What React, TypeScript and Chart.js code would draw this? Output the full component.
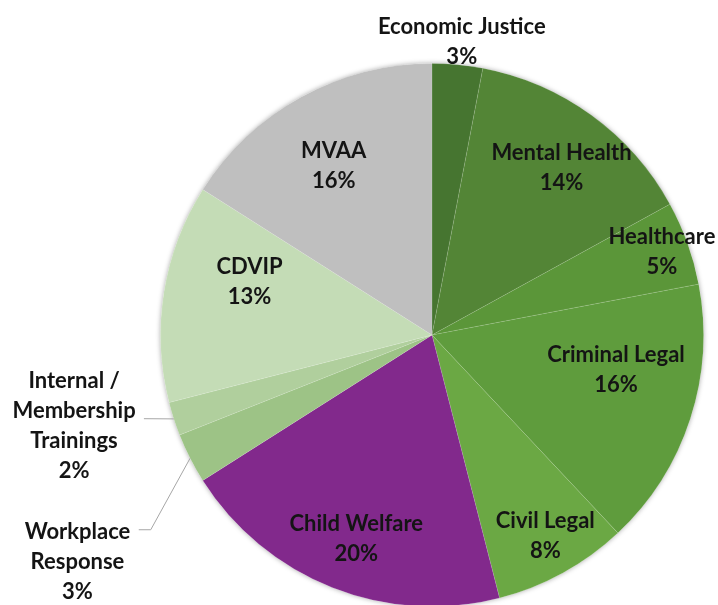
import { useEffect, useRef } from "react";
import { Chart, registerables } from "chart.js";

Chart.register(...registerables);

const categories = [
  "Economic Justice",
  "Mental Health",
  "Healthcare",
  "Criminal Legal",
  "Civil Legal",
  "Child Welfare",
  "Workplace Response",
  "Internal / Membership Trainings",
  "CDVIP",
  "MVAA",
];
const values = [3, 14, 5, 16, 8, 20, 3, 2, 13, 16];
const labelLines = [
  ["Economic Justice"],
  ["Mental Health"],
  ["Healthcare"],
  ["Criminal Legal"],
  ["Civil Legal"],
  ["Child Welfare"],
  ["Workplace", "Response"],
  ["Internal /", "Membership", "Trainings"],
  ["CDVIP"],
  ["MVAA"],
];
const colors = [
  "#467530",
  "#538536",
  "#5b9639",
  "#5f9c3d",
  "#6ba844",
  "#82298c",
  "#9dc386",
  "#b0cf9d",
  "#c4dcb6",
  "#bfbfbf",
];
// label placement: radius factor and angle shift (degrees) from slice middle
const labelRadius = [1.085, 0.78, 0.9, 0.69, 0.85, 0.8, 1.55, 1.36, 0.7, 0.72];
const labelShift = [0.4, 1.7, 0, -7.2, -0.6, -1.2, -5.6, 3.8, 7.2, -1.4];

const labelPlugin = {
  id: "sliceLabels",
  beforeDatasetsDraw(chart: any) {
    const meta = chart.getDatasetMeta(0);
    const a = meta.data[0];
    if (!a) return;
    const ctx = chart.ctx;
    ctx.save();
    ctx.shadowColor = "rgba(0,0,0,0.35)";
    ctx.shadowBlur = 5;
    ctx.fillStyle = "#ffffff";
    ctx.beginPath();
    ctx.arc(a.x, a.y, a.outerRadius, 0, Math.PI * 2);
    ctx.fill();
    ctx.restore();
  },
  afterDatasetsDraw(chart: any) {
    const meta = chart.getDatasetMeta(0);
    const ctx = chart.ctx;
    ctx.save();
    ctx.font = "bold 22px Lato";
    ctx.fillStyle = "#141414";
    ctx.textAlign = "center";
    ctx.textBaseline = "middle";
    const lh = 30;
    meta.data.forEach((arc: any, i: number) => {
      const R = arc.outerRadius;
      const mid = (arc.startAngle + arc.endAngle) / 2;
      const ang = mid + (labelShift[i] * Math.PI) / 180;
      const cx = arc.x + labelRadius[i] * R * Math.cos(ang);
      const cy = arc.y + labelRadius[i] * R * Math.sin(ang);
      const lines = [...labelLines[i], values[i] + "%"];
      const y0 = cy - ((lines.length - 1) * lh) / 2;
      lines.forEach((t, k) => ctx.fillText(t, cx, y0 + k * lh));
    });
    // leader lines
    ctx.strokeStyle = "#a6a6a6";
    ctx.lineWidth = 1;
    const leaders = [
      { i: 6, rf: 1.26, shift: -7.7, tail: 12 },
      { i: 7, rf: 1.105, shift: 1.8, tail: 0 },
    ];
    leaders.forEach((l) => {
      const arc: any = meta.data[l.i];
      const R = arc.outerRadius;
      const mid = (arc.startAngle + arc.endAngle) / 2;
      const sx = arc.x + R * Math.cos(mid);
      const sy = arc.y + R * Math.sin(mid);
      const ea = mid + (l.shift * Math.PI) / 180;
      const ex = arc.x + l.rf * R * Math.cos(ea);
      const ey = arc.y + l.rf * R * Math.sin(ea);
      ctx.beginPath();
      ctx.moveTo(sx, sy);
      ctx.lineTo(ex, ey);
      ctx.lineTo(ex - l.tail, ey);
      ctx.stroke();
    });
    ctx.restore();
  },
};

export default function App() {
  const ref = useRef<HTMLCanvasElement | null>(null);
  useEffect(() => {
    document.body.style.margin = "0";
    const chart = new Chart(ref.current as HTMLCanvasElement, {
      type: "pie",
      data: {
        labels: categories,
        datasets: [
          {
            data: values,
            backgroundColor: colors,
            borderColor: "rgba(255,255,255,0.1)",
            borderWidth: 1,
            hoverOffset: 0,
          },
        ],
      },
      options: {
        animation: false,
        responsive: true,
        maintainAspectRatio: false,
        layout: { padding: { top: 63, bottom: 63, left: 160, right: 14 } },
        plugins: { legend: { display: false }, tooltip: { enabled: false } },
      },
      plugins: [labelPlugin],
    });
    return () => chart.destroy();
  }, []);
  return (
    <div style={{ position: "fixed", left: 0, top: 0, width: 718, height: 670, background: "#fff" }}>
      <canvas ref={ref} />
    </div>
  );
}
